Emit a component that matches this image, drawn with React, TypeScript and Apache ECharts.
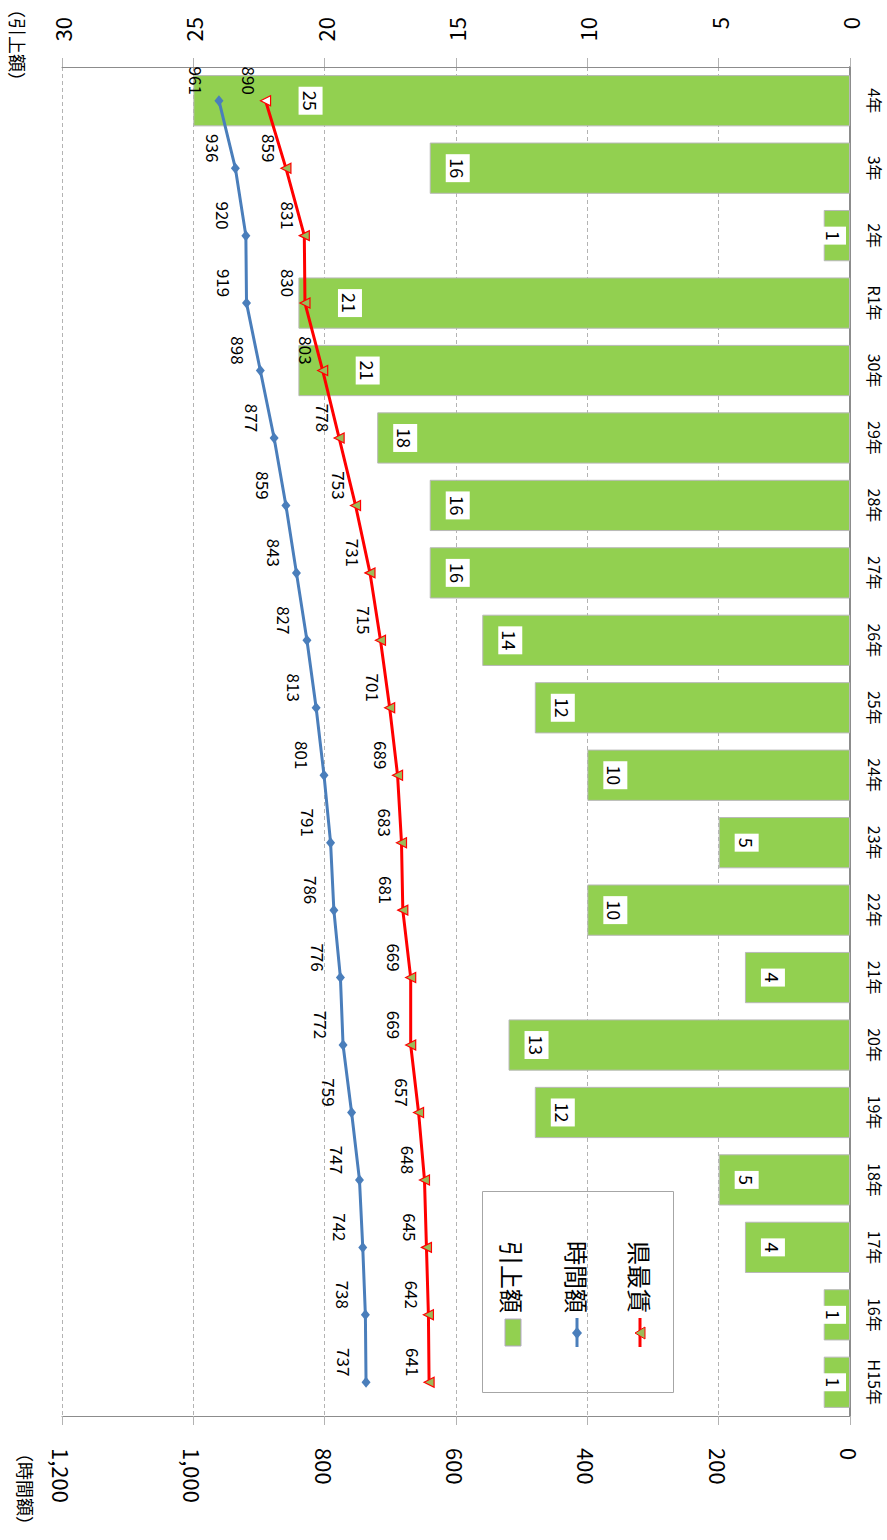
import React, { useEffect, useRef } from 'react';
import * as echarts from 'echarts';

const categories = ['H15年', '16年', '17年', '18年', '19年', '20年', '21年', '22年', '23年', '24年', '25年', '26年', '27年', '28年', '29年', '30年', 'R1年', '2年', '3年', '4年'];
const raiseValues = [1, 1, 4, 5, 12, 13, 4, 10, 5, 10, 12, 14, 16, 16, 18, 21, 21, 1, 16, 25];
const hourlyValues = [737, 738, 742, 747, 759, 772, 776, 786, 791, 801, 813, 827, 843, 859, 877, 898, 919, 920, 936, 961];
const prefValues = [641, 642, 645, 648, 657, 669, 669, 681, 683, 689, 701, 715, 731, 753, 778, 803, 830, 831, 859, 890];

const raiseAxis = { min: 0, max: 30, interval: 5 };
const wageAxis = { min: 0, max: 1200, interval: 200 };
const legendNames = ['引上額', '時間額', '県最賃'];
const axisNames = ['（引上額）', '（時間額）'];

const FONT = "'Noto Sans CJK JP', 'Noto Sans', sans-serif";
const GREEN = '#92d050';
const BLUE = '#4a7ebb';
const RED = '#ff0000';
const OLIVE = '#9bbb59';

export default function App() {
  const ref = useRef<HTMLDivElement>(null);

  useEffect(() => {
    if (!ref.current) return;
    const chart = echarts.init(ref.current, undefined, { renderer: 'svg' });
    const last = prefValues.length - 1;

    const barLabelLayout = (params: any) => {
      const rect = params.rect;
      const i = params.dataIndex;
      let x = rect.x + 28;
      try {
        const redX = chart.convertToPixel({ xAxisIndex: 1 } as any, prefValues[i]) as any;
        if (typeof redX === 'number' && isFinite(redX)) x = Math.max(x, redX + 45);
      } catch (e) {
        // keep default
      }
      x = Math.min(x, rect.x + rect.width - 16);
      return {
        x,
        y: rect.y + rect.height / 2,
        align: 'center',
        verticalAlign: 'middle',
        rotate: -90,
      };
    };

    const option = {
      animation: false,
      backgroundColor: '#ffffff',
      textStyle: { fontFamily: FONT },
      grid: { left: 62, right: 37, top: 67, bottom: 124, containLabel: false },
      xAxis: [
        {
          type: 'value',
          position: 'top',
          inverse: true,
          min: raiseAxis.min,
          max: raiseAxis.max,
          interval: raiseAxis.interval,
          axisLine: { show: true, lineStyle: { color: '#8c8c8c', width: 1 } },
          axisTick: { show: true, length: 9, lineStyle: { color: '#b3b3b3' } },
          splitLine: { show: true, lineStyle: { color: '#b3b3b3', type: [4, 3] } },
          axisLabel: {
            rotate: -90,
            fontSize: 22,
            color: '#000',
            fontFamily: FONT,
            align: 'right',
            verticalAlign: 'middle',
            margin: 50,
          },
        },
        {
          type: 'value',
          position: 'bottom',
          inverse: true,
          min: wageAxis.min,
          max: wageAxis.max,
          interval: wageAxis.interval,
          axisLine: { show: true, lineStyle: { color: '#8c8c8c', width: 1 } },
          axisTick: { show: true, length: 9, lineStyle: { color: '#b3b3b3' } },
          splitLine: { show: false },
          axisLabel: {
            rotate: -90,
            fontSize: 22,
            color: '#000',
            fontFamily: FONT,
            align: 'left',
            verticalAlign: 'middle',
            margin: 32,
            formatter: (v: number) => v.toLocaleString('en-US'),
          },
        },
      ],
      yAxis: {
        type: 'category',
        position: 'right',
        data: categories,
        axisLine: { show: true, lineStyle: { color: '#8c8c8c', width: 2 } },
        axisTick: { show: true, inside: true, alignWithLabel: true, length: 4, lineStyle: { color: '#8c8c8c' } },
        splitLine: { show: false },
        axisLabel: {
          rotate: -90,
          fontSize: 16,
          color: '#000',
          fontFamily: FONT,
          align: 'center',
          verticalAlign: 'bottom',
          margin: 17,
        },
      },
      series: [
        {
          type: 'bar',
          name: legendNames[0],
          xAxisIndex: 0,
          yAxisIndex: 0,
          data: raiseValues,
          barWidth: '76%',
          itemStyle: { color: GREEN, borderColor: '#b8b8b8', borderWidth: 1 },
          label: {
            show: true,
            position: 'insideLeft',
            distance: 28,
            rotate: -90,
            align: 'center',
            verticalAlign: 'middle',
            fontSize: 18,
            color: '#000',
            fontFamily: FONT,
            backgroundColor: '#ffffff',
            padding: [3, 4],
          },
          labelLayout: barLabelLayout,
          z: 2,
        },
        {
          type: 'line',
          name: legendNames[1],
          xAxisIndex: 1,
          yAxisIndex: 0,
          data: hourlyValues.map((v, i) => [v, categories[i]]),
          symbol: 'diamond',
          symbolSize: [9, 11],
          lineStyle: { color: BLUE, width: 3 },
          itemStyle: { color: BLUE },
          label: {
            show: true,
            position: 'inside',
            rotate: -90,
            offset: [-20, 22],
            fontSize: 17,
            color: '#000',
            fontFamily: FONT,
            formatter: (p: any) => String(p.value[0]),
          },
          z: 3,
        },
        {
          type: 'line',
          name: legendNames[2],
          xAxisIndex: 1,
          yAxisIndex: 0,
          data: prefValues.map((v, i) =>
            i === last ? { value: [v, categories[i]], itemStyle: { color: '#ffffff' } } : [v, categories[i]]
          ),
          symbol: 'triangle',
          symbolRotate: 90,
          symbolSize: 10,
          lineStyle: { color: RED, width: 3 },
          itemStyle: { color: OLIVE, borderColor: RED, borderWidth: 1.2 },
          label: {
            show: true,
            position: 'inside',
            rotate: -90,
            offset: [-20, 16],
            fontSize: 17,
            color: '#000',
            fontFamily: FONT,
            formatter: (p: any) => String(p.value[0]),
          },
          z: 4,
        },
      ],
      graphic: [
        {
          type: 'text',
          x: 18,
          y: 0,
          rotation: -Math.PI / 2,
          style: { text: axisNames[0], font: `18px ${FONT}`, fill: '#000', align: 'left', textAlign: 'left', verticalAlign: 'middle', textVerticalAlign: 'middle' },
        },
        {
          type: 'text',
          x: 26,
          y: 1444,
          rotation: -Math.PI / 2,
          style: { text: axisNames[1], font: `18px ${FONT}`, fill: '#000', align: 'left', textAlign: 'left', verticalAlign: 'middle', textVerticalAlign: 'middle' },
        },
        {
          type: 'group',
          z: 100,
          children: [
            { type: 'rect', shape: { x: 482.5, y: 1191.5, width: 191, height: 201 }, style: { fill: '#ffffff', stroke: '#a6a6a6', lineWidth: 1 } },
            { type: 'rect', shape: { x: 505, y: 1319, width: 16, height: 27 }, style: { fill: GREEN, stroke: '#b4a7c6', lineWidth: 1 } },
            {
              type: 'text', x: 512, y: 1313, rotation: -Math.PI / 2,
              style: { text: legendNames[0], font: `24px ${FONT}`, fill: '#000', align: 'right', textAlign: 'right', verticalAlign: 'middle', textVerticalAlign: 'middle' },
            },
            { type: 'line', shape: { x1: 577, y1: 1318, x2: 577, y2: 1347 }, style: { stroke: BLUE, lineWidth: 3 } },
            { type: 'polygon', shape: { points: [[577, 1327], [582, 1333], [577, 1339], [572, 1333]] }, style: { fill: BLUE } },
            {
              type: 'text', x: 577, y: 1313, rotation: -Math.PI / 2,
              style: { text: legendNames[1], font: `24px ${FONT}`, fill: '#000', align: 'right', textAlign: 'right', verticalAlign: 'middle', textVerticalAlign: 'middle' },
            },
            { type: 'line', shape: { x1: 640, y1: 1318, x2: 640, y2: 1347 }, style: { stroke: RED, lineWidth: 3 } },
            { type: 'polygon', shape: { points: [[635, 1333], [645, 1327], [645, 1339]] }, style: { fill: OLIVE, stroke: RED, lineWidth: 1 } },
            {
              type: 'text', x: 640, y: 1313, rotation: -Math.PI / 2,
              style: { text: legendNames[2], font: `24px ${FONT}`, fill: '#000', align: 'right', textAlign: 'right', verticalAlign: 'middle', textVerticalAlign: 'middle' },
            },
          ],
        },
      ],
    };

    chart.setOption(option as any);
    return () => chart.dispose();
  }, []);

  return (
    <div
      ref={ref}
      style={{ position: 'absolute', left: 0, top: 0, width: 887, height: 1540, background: '#ffffff' }}
    />
  );
}
